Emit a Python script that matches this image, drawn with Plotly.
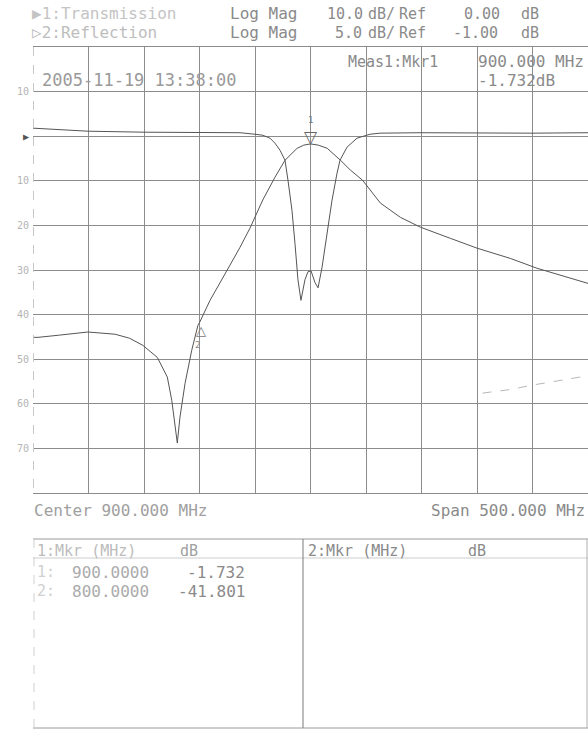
import plotly.graph_objects as go

# ---------------- data ----------------
freq_trans = [650, 654.5, 674, 699.5, 724, 737, 749, 762, 771, 775, 780, 782.4, 787, 793,
              798.6, 800, 809.5, 818.5, 827.5, 836.5, 845.5, 857, 868, 877, 888, 894, 900,
              907, 915, 927, 936, 947, 963, 981, 999, 1026, 1050, 1080, 1104, 1150]
trans_db = [-45.1, -45.1, -44.6, -43.9, -44.4, -45.3, -46.9, -49.6, -54.0, -59.2, -68.8,
            -63.0, -55.4, -48.0, -42.4, -41.8, -36.8, -33.0, -28.9, -24.9, -20.6, -14.3,
            -9.2, -5.4, -2.7, -2.0, -1.73, -2.0, -2.7, -5.4, -7.6, -9.9, -15.0, -18.2,
            -20.4, -22.9, -25.1, -27.4, -29.6, -33.0]

freq_refl = [650, 665, 699.5, 750, 799.5, 836.5, 850, 857, 863.5, 868, 872.5, 877, 879.7,
             883.3, 886, 888.7, 891.4, 895, 897.7, 900.5, 904, 906.8, 910.4, 914.9, 919.4,
             923.9, 926.6, 932.9, 941.9, 953.6, 962.6, 998.6, 1050.9, 1100.5, 1150]
refl_db = [-0.10, -0.22, -0.44, -0.55, -0.55, -0.61, -0.78, -0.89, -1.22, -1.78, -2.57,
           -3.69, -5.93, -9.30, -13.0, -17.1, -19.4, -17.1, -16.2, -16.1, -17.4, -18.0,
           -15.7, -11.9, -8.17, -5.15, -3.69, -2.23, -1.22, -0.78, -0.66, -0.61, -0.66,
           -0.66, -0.61]

ghost_freq = [1055, 1080, 1100, 1120, 1143]
ghost_db = [-57.6, -56.8, -55.8, -55.0, -54.0]

y_tickvals = [-80, -70, -60, -50, -40, -30, -20, -10, 0, 10, 20]
y_ticktext = ["", "70", "60", "50", "40", "30", "20", "10",
              "<span style='color:#555'>▶</span>", "10", ""]

marker_freq = [900.0, 800.0]
marker_db = [-1.732, -41.801]

# ---------------- layout helpers ----------------
W, H = 588, 731
ML, MR, MT, MB = 33, 0, 47, 238
PW, PH = W - ML - MR, H - MT - MB


def px(x, y):
    """page pixel -> paper coordinates"""
    return (x - ML) / PW, (H - MB - y) / PH


FONT = "DejaVu Sans Mono"
TRACE = "#555555"
GRID = "#8c8c8c"

fig = go.Figure()
fig.add_trace(go.Scatter(x=freq_trans, y=trans_db, mode="lines",
                         line=dict(color=TRACE, width=1), hoverinfo="skip"))
fig.add_trace(go.Scatter(x=freq_refl, y=refl_db, mode="lines", yaxis="y2",
                         line=dict(color=TRACE, width=1), hoverinfo="skip"))
fig.add_trace(go.Scatter(x=ghost_freq, y=ghost_db, mode="lines",
                         line=dict(color="#b8b8b8", width=1, dash="dash"), hoverinfo="skip"))

annotations = []


def text(x, y, s, color="#808080", size=16, anchor="left"):
    xp, yp = px(x, y)
    annotations.append(dict(x=xp, y=yp, xref="paper", yref="paper", text=s,
                            showarrow=False, xanchor=anchor, yanchor="middle",
                            font=dict(family=FONT, size=size, color=color)))


HC = "#8a8a8a"
# header
text(30, 14, "▶1:Transmission", "#c4c4c4")
text(228, 14, "Log Mag", HC)
text(325, 14, "10.0", HC, 15)
text(366, 14, "dB/", HC, 15)
text(397, 14, "Ref", HC, 15)
text(462, 14, "0.00", HC, 15)
text(519, 14, "dB", HC, 15)
text(30, 33, "▷2:Reflection", "#bdbdbd")
text(228, 33, "Log Mag", HC)
text(333, 33, "5.0", HC, 15)
text(366, 33, "dB/", HC, 15)
text(397, 33, "Ref", HC, 15)
text(451, 33, "-1.00", HC, 15)
text(519, 33, "dB", HC, 15)
text(346, 62, "Meas1:Mkr1", HC, 15)
text(476, 62, "900.000 MHz", HC)
text(40, 80, "2005-11-19 13:38:00", "#9a9a9a", 17)
text(476, 80, "-1.732dB", HC)

# bottom axis captions
text(32, 510, "Center 900.000 MHz", "#a0a0a0")
text(587, 510, "Span 500.000 MHz", HC, anchor="right")

# table
text(35, 551, "1:Mkr (MHz)", "#bcbcbc", 15)
text(178, 551, "dB", "#a0a0a0", 15)
text(306, 551, "2:Mkr (MHz)", HC, 15)
text(466, 551, "dB", HC, 15)
text(35, 572, "1:", "#d0d0d0", 15)
text(70, 572, "%.4f" % marker_freq[0], "#ababab", 16)
text(247, 572, "%.3f" % marker_db[0], HC, 16, anchor="right")
text(35, 591, "2:", "#d0d0d0", 15)
text(70, 591, "%.4f" % marker_freq[1], "#ababab", 16)
text(247, 591, "%.3f" % marker_db[1], HC, 16, anchor="right")

# markers
annotations.append(dict(x=marker_freq[0], y=marker_db[0], xref="x", yref="y",
                        text="▽", showarrow=False, yanchor="bottom", yshift=-5,
                        font=dict(family="DejaVu Sans", size=17, color="#666")))
annotations.append(dict(x=marker_freq[0], y=marker_db[0], xref="x", yref="y",
                        text="1", showarrow=False, yanchor="bottom", yshift=17,
                        font=dict(family=FONT, size=9, color="#777")))
annotations.append(dict(x=marker_freq[1], y=marker_db[1], xref="x", yref="y",
                        text="△", showarrow=False, yanchor="top", yshift=2, xshift=1,
                        font=dict(family="DejaVu Sans", size=13, color="#777")))
annotations.append(dict(x=marker_freq[1], y=marker_db[1], xref="x", yref="y",
                        text="2", showarrow=False, yanchor="top", yshift=-15, xshift=-2,
                        font=dict(family=FONT, size=9, color="#888")))

shapes = []


def hline(y, x0, x1, color="#8c8c8c", dash="solid"):
    _, yp = px(0, y)
    a, _ = px(x0, 0)
    b, _ = px(x1, 0)
    shapes.append(dict(type="line", xref="paper", yref="paper", x0=a, x1=b, y0=yp, y1=yp,
                       line=dict(color=color, width=1, dash=dash)))


def vline(x, y0, y1, color="#8c8c8c", dash="solid"):
    xp, _ = px(x, 0)
    _, a = px(0, y0)
    _, b = px(0, y1)
    shapes.append(dict(type="line", xref="paper", yref="paper", x0=xp, x1=xp, y0=a, y1=b,
                       line=dict(color=color, width=1, dash=dash)))


# plot frame: faint dashed left edge
vline(33.5, 47, 493, "#c8c8c8", "dash")
# marker table
hline(539, 33, 588, "#9a9a9a")
hline(728, 33, 588, "#9a9a9a")
hline(558, 33, 588, "#cdcdcd")
vline(34, 539, 728, "#d0d0d0", "dash")
vline(303, 539, 728, "#7a7a7a")
vline(587, 539, 728, "#b0b0b0")

fig.update_layout(
    width=W, height=H,
    margin=dict(l=ML, r=MR, t=MT, b=MB),
    paper_bgcolor="white", plot_bgcolor="white",
    showlegend=False,
    xaxis=dict(range=[650, 1150], tick0=650, dtick=50, showticklabels=False,
               showgrid=True, gridcolor=GRID, gridwidth=1, zeroline=False,
               showline=True, mirror=True, linecolor=GRID, linewidth=1, ticks=""),
    yaxis=dict(range=[-80, 20], tickmode="array", tickvals=y_tickvals, ticktext=y_ticktext,
               showgrid=True, gridcolor=GRID, gridwidth=1, zeroline=False, ticks="",
               showline=False, ticklabelstandoff=3,
               tickfont=dict(family=FONT, size=10, color="#b4b4b4")),
    yaxis2=dict(range=[-41, 9], overlaying="y", visible=False),
    annotations=annotations,
    shapes=shapes,
)

fig.write_html("out.html",
               config={"displayModeBar": False, "staticPlot": True},
               post_script="document.body.style.margin='0';"
                           "document.body.style.overflow='hidden';")
